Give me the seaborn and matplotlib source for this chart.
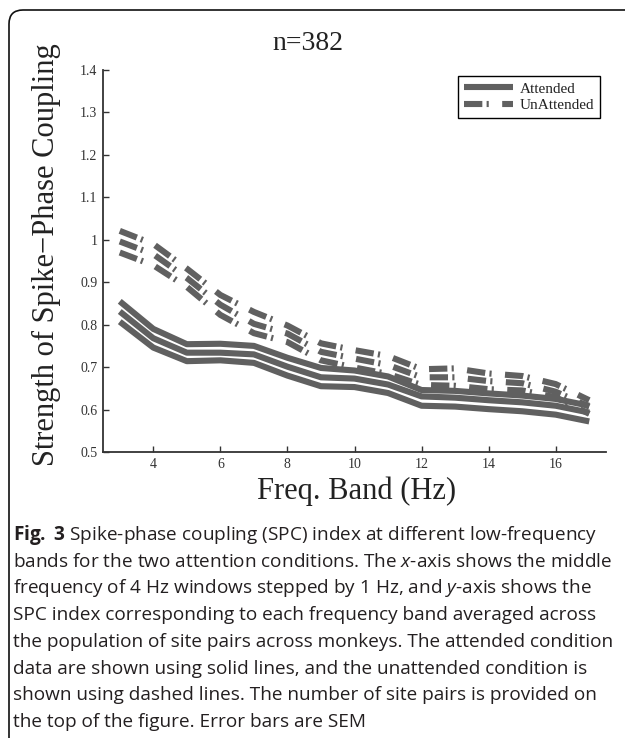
import numpy as np
import pandas as pd
import matplotlib
matplotlib.use("Agg")
import matplotlib.pyplot as plt
import seaborn as sns
from matplotlib.lines import Line2D
from matplotlib.patches import FancyBboxPatch
from matplotlib.transforms import IdentityTransform

# ---------------- data ----------------
freq = [3, 4, 5, 6, 7, 8, 9, 10, 11, 12, 13, 14, 15, 16, 17]

att_upper = [0.855, 0.790, 0.754, 0.755, 0.750, 0.722, 0.698, 0.692, 0.678, 0.646, 0.644, 0.638, 0.633, 0.625, 0.609]
att_mean  = [0.831, 0.768, 0.734, 0.734, 0.730, 0.701, 0.676, 0.673, 0.659, 0.631, 0.628, 0.622, 0.617, 0.609, 0.593]
att_lower = [0.807, 0.746, 0.714, 0.716, 0.710, 0.680, 0.655, 0.653, 0.639, 0.609, 0.607, 0.601, 0.596, 0.588, 0.572]

un_upper = [1.021, 0.990, 0.932, 0.870, 0.830, 0.798, 0.756, 0.740, 0.726, 0.695, 0.697, 0.685, 0.679, 0.660, 0.622]
un_mean  = [0.996, 0.966, 0.910, 0.847, 0.802, 0.779, 0.736, 0.720, 0.705, 0.676, 0.676, 0.667, 0.662, 0.642, 0.607]
un_lower = [0.970, 0.940, 0.889, 0.823, 0.780, 0.759, 0.716, 0.699, 0.684, 0.658, 0.656, 0.648, 0.645, 0.629, 0.590]

x_ticks = [4, 6, 8, 10, 12, 14, 16]
y_ticks = [0.5, 0.6, 0.7, 0.8, 0.9, 1.0, 1.1, 1.2, 1.3, 1.4]
y_ticklabels = ["0.5", "0.6", "0.7", "0.8", "0.9", "1", "1.1", "1.2", "1.3", "1.4"]

title_text = "n=382"
xlabel_text = "Freq. Band (Hz)"
ylabel_text = "Strength of Spike\u2212Phase Coupling"
legend_labels = ["Attended", "UnAttended"]

caption_lines = [
    r"$\mathbf{Fig.}$ $\mathbf{3}$ Spike-phase coupling (SPC) index at different low-frequency",
    r"bands for the two attention conditions. The $\mathit{x}$-axis shows the middle",
    r"frequency of 4 Hz windows stepped by 1 Hz, and $\mathit{y}$-axis shows the",
    "SPC index corresponding to each frequency band averaged across",
    "the population of site pairs across monkeys. The attended condition",
    "data are shown using solid lines, and the unattended condition is",
    "shown using dashed lines. The number of site pairs is provided on",
    "the top of the figure. Error bars are SEM",
]

# ---------------- style ----------------
sns.set_theme(style="white")
plt.rcParams["font.family"] = ["Liberation Serif", "DejaVu Serif"]
plt.rcParams["mathtext.fontset"] = "custom"
plt.rcParams["mathtext.rm"] = "Open Sans"
plt.rcParams["mathtext.it"] = "Open Sans:italic"
plt.rcParams["mathtext.bf"] = "Open Sans:bold"

W, H = 625, 738
fig = plt.figure(figsize=(W / 100, H / 100), dpi=100)
fig.patch.set_facecolor("white")

ax_left, ax_right, ax_top, ax_bottom = 103, 606, 70, 452
ax = fig.add_axes([ax_left / W, 1 - ax_bottom / H, (ax_right - ax_left) / W, (ax_bottom - ax_top) / H])

line_color = "#606060"
lw = 4.4
dashdot = (0, (3.0, 0.7, 0.35, 2.2))

df_rows = []
for name, arr in [("att_upper", att_upper), ("att_mean", att_mean), ("att_lower", att_lower),
                  ("un_upper", un_upper), ("un_mean", un_mean), ("un_lower", un_lower)]:
    for f, v in zip(freq, arr):
        df_rows.append({"freq": f, "value": v, "series": name})
df = pd.DataFrame(df_rows)

for name in ["un_upper", "un_mean", "un_lower"]:
    sub = df[df.series == name]
    sns.lineplot(data=sub, x="freq", y="value", ax=ax, color=line_color, lw=lw,
                 linestyle=dashdot, dash_capstyle="butt", legend=False)
for name in ["att_upper", "att_mean", "att_lower"]:
    sub = df[df.series == name]
    sns.lineplot(data=sub, x="freq", y="value", ax=ax, color=line_color, lw=lw,
                 linestyle="-", solid_capstyle="butt", legend=False)

ax.set_xlim(2.5, 17.5)
ax.set_ylim(0.5, 1.4)
ax.set_xticks(x_ticks)
ax.set_xticklabels([str(t) for t in x_ticks])
ax.set_yticks(y_ticks)
ax.set_yticklabels(y_ticklabels)
ax.set_xlabel("")
ax.set_ylabel("")
for s in ["top", "right"]:
    ax.spines[s].set_visible(False)
for s in ["left", "bottom"]:
    ax.spines[s].set_color("#333333")
    ax.spines[s].set_linewidth(1.3)
ax.tick_params(axis="both", direction="in", length=4, width=1.0, color="#333333",
               labelsize=10, labelcolor="#333333", pad=4, left=True, bottom=True)
ax.set_facecolor("white")

handles = [Line2D([], [], color=line_color, lw=lw, linestyle="-", solid_capstyle="butt"),
           Line2D([], [], color=line_color, lw=lw, linestyle=dashdot, dash_capstyle="butt")]
leg = ax.legend(handles, legend_labels, loc="upper right", bbox_to_anchor=(0.988, 0.985),
                borderaxespad=0, frameon=True, fancybox=False, framealpha=1,
                edgecolor="black", fontsize=11, handlelength=3.2, handletextpad=0.4,
                borderpad=0.4, labelspacing=0.2)
leg.get_frame().set_linewidth(1.0)
for t in leg.get_texts():
    t.set_color("#222222")

# titles / labels as figure text
fig.text(308 / W, 1 - 43 / H, title_text, ha="center", va="center", fontsize=20, color="#222222")
fig.text(357 / W, 1 - 491 / H, xlabel_text, ha="center", va="center", fontsize=22, color="#222222")
fig.text(46 / W, 1 - 255 / H, ylabel_text, ha="center", va="center", rotation=90,
         fontsize=22, color="#222222")

# caption
cap_fs = 12.0
renderer = fig.canvas.get_renderer()
probe = fig.text(0, 0, caption_lines[1], fontsize=cap_fs, family="Open Sans")
wpx = probe.get_window_extent(renderer).width
probe.remove()
cap_fs = cap_fs * 600.0 / wpx
for i, line in enumerate(caption_lines):
    yb = 540 + 26.7 * i
    fig.text(13 / W, 1 - yb / H, line, ha="left", va="baseline", fontsize=cap_fs,
             family="Open Sans", color="#231f20")

# frame
frame = FancyBboxPatch((9, -30), 700, (H - 10) + 30, boxstyle="round,pad=0,rounding_size=14",
                       transform=IdentityTransform(), fill=False, edgecolor="#111111",
                       linewidth=1.2, figure=fig)
fig.patches.append(frame)

fig.savefig("out.png", dpi=100, facecolor="white")
